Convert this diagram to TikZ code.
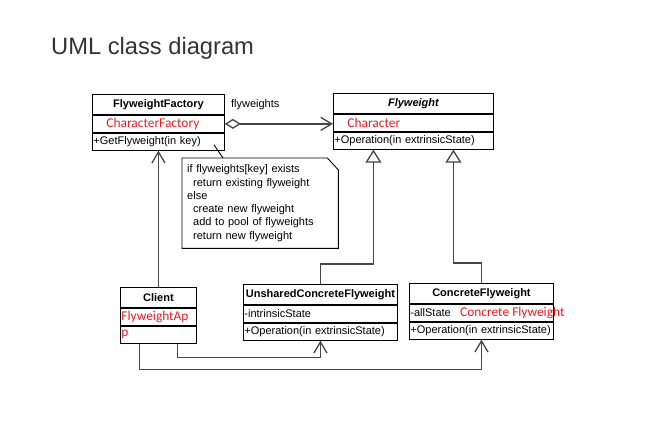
\documentclass[tikz,border=0pt]{standalone}
\usepackage{fontspec}
\setmainfont{Liberation Sans}
\newfontfamily\calibrifont{Carlito}
\usetikzlibrary{positioning,arrows.meta}
\definecolor{attrred}{RGB}{235,28,36}
\definecolor{linkgray}{RGB}{70,70,70}
\definecolor{titlegray}{RGB}{51,51,51}
\newcommand{\redattr}[1]{{\calibrifont\fontsize{13.4}{14}\selectfont\color{attrred}#1}}

\begin{document}
\begin{tikzpicture}[x=1pt,y=-1pt,font=\fontsize{11}{13.3}\selectfont,
  classhead/.style={draw,line width=0.9pt,text width=#1,inner xsep=1pt,inner ysep=1pt,minimum height=20pt,align=center,font=\fontsize{11}{13.3}\selectfont\bfseries},
  classrow/.style={draw,line width=0.9pt,text width=#1,inner xsep=1pt,inner ysep=1pt,minimum height=17pt,align=left},
  link/.style={draw=linkgray,line width=1.3pt},
  uses/.style={link,-{Straight Barb[length=11pt,width=13pt]}},
  gen/.style={link,-{Triangle[open,length=13pt,width=16pt,fill=white]}},
  agg/.style={link,{Diamond[open,length=16pt,width=10pt,fill=white]}-{Straight Barb[length=11pt,width=13pt]}}]
  \useasboundingbox (0,0) rectangle (664,428);
  \node[font=\fontsize{23.7}{28}\selectfont,text=titlegray,anchor=west,inner sep=0pt] (title) at (51,48) {UML class diagram};

  \node[classhead=130pt,anchor=north west] (fac) at (92,94) {FlyweightFactory};
  \node[classrow=130pt,below=0pt of fac] (fac-attr) {\hspace*{13pt}\redattr{CharacterFactory}};
  \node[classrow=130pt,below=0pt of fac-attr] (fac-op) {+GetFlyweight(in key)};

  \node[classhead=158pt,anchor=north west] (fw) at (333,93) {\itshape Flyweight};
  \node[classrow=158pt,below=0pt of fw] (fw-attr) {\hspace*{13pt}\redattr{Character}};
  \node[classrow=158pt,below=0pt of fw-attr] (fw-op) {+Operation(in extrinsicState)};

  \node[classhead=74pt,anchor=north west] (client) at (120,287) {Client};
  \node[classrow=74pt,below=0pt of client] (client-attr) {\redattr{FlyweightAp}};
  \node[classrow=74pt,below=0pt of client-attr] (client-op) {\redattr{p}};

  \node[classhead=152pt,anchor=north west] (uscf) at (243,284) {UnsharedConcreteFlyweight};
  \node[classrow=152pt,below=0pt of uscf] (uscf-attr) {-intrinsicState};
  \node[classrow=152pt,below=0pt of uscf-attr] (uscf-op) {+Operation(in extrinsicState)};

  \node[classhead=142pt,anchor=north west] (cf) at (409,283) {ConcreteFlyweight};
  \node[classrow=142pt,below=0pt of cf] (cf-attr) {-allState};
  \node[classrow=142pt,below=0pt of cf-attr] (cf-op) {+Operation(in extrinsicState)};
  \node[anchor=west,inner sep=0pt] (cf-red) at ([xshift=51pt]cf-attr.west) {\redattr{Concrete Flyweight}};

  \node[text width=146pt,inner xsep=5pt,minimum height=90pt,anchor=north west,align=left] (note) at (182,158) {if flyweights[key] exists\\
    \hspace*{6pt}return existing flyweight\\
    else\\
    \hspace*{6pt}create new flyweight\\
    \hspace*{6pt}add to pool of flyweights\\
    \hspace*{6pt}return new flyweight};
  \draw[line width=0.9pt] (note.north west) -- ([xshift=-11pt]note.north east) -- ([yshift=-12pt]note.north east) -- (note.south east) -- (note.south west) -- cycle;
  \draw[line width=0.9pt] ([xshift=41pt]note.north west) -- ([shift={(-11pt,6pt)}]fac-op.south east);

  \node[anchor=west,inner sep=0pt] (agg-label) at ([xshift=6pt]fac.east) {flyweights};
  \draw[agg] (fac-attr.east) -- (fac-attr.east -| fw-attr.west);
  \draw[uses] (client.north) -- (client.north |- fac-op.south);
  \draw[gen] (uscf.north) -- ++(0,-20) -| ([xshift=-40pt]fw-op.south);
  \draw[gen] (cf.north) -- ++(0,-20) -| ([xshift=40pt]fw-op.south);
  \draw[uses] ([xshift=19pt]client-op.south) -- ++(0,14) -| (uscf-op.south);
  \draw[uses] ([xshift=-19pt]client-op.south) -- ++(0,26) -| (cf-op.south);
\end{tikzpicture}
\end{document}
